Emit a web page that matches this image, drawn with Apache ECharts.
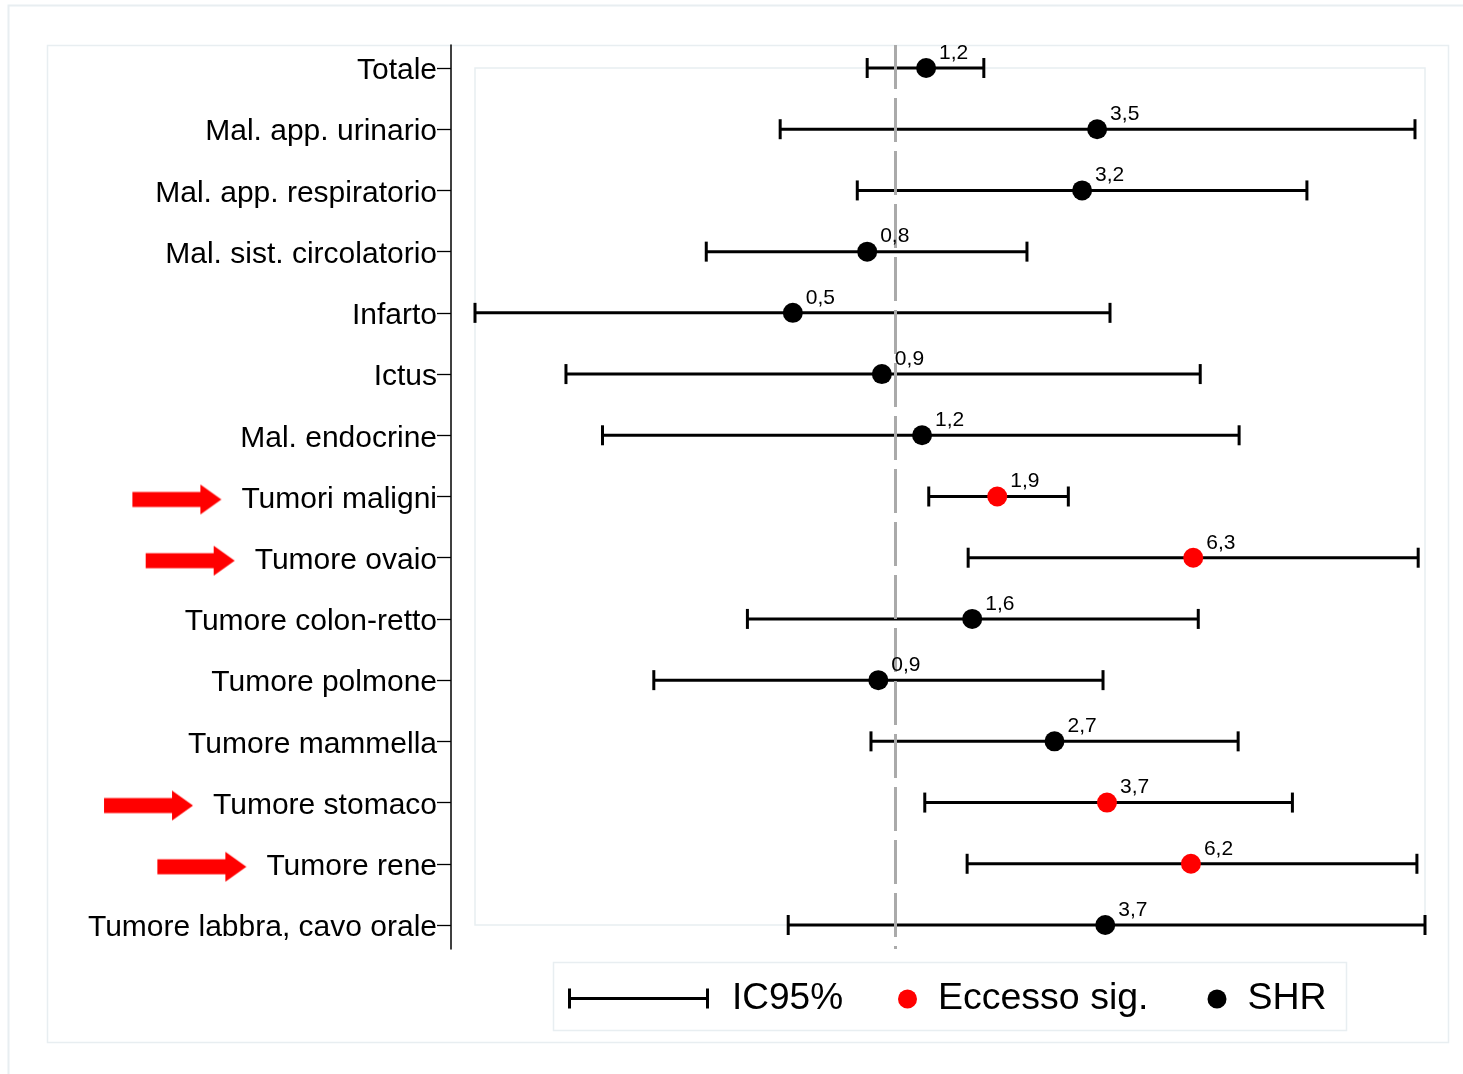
<!DOCTYPE html>
<html>
<head>
<meta charset="utf-8">
<script src="https://cdn.jsdelivr.net/npm/echarts@6/dist/echarts.min.js"></script>
<style>
  html, body { margin: 0; padding: 0; background: #fff; }
  #chart { width: 1463px; height: 1074px; }
</style>
</head>
<body>
<div id="chart"></div>
<script>
const categories = [
  "Totale",
  "Mal. app. urinario",
  "Mal. app. respiratorio",
  "Mal. sist. circolatorio",
  "Infarto",
  "Ictus",
  "Mal. endocrine",
  "Tumori maligni",
  "Tumore ovaio",
  "Tumore colon-retto",
  "Tumore polmone",
  "Tumore mammella",
  "Tumore stomaco",
  "Tumore rene",
  "Tumore labbra, cavo orale",
];
const shr = [1.21, 3.49, 3.18, 0.84, 0.53, 0.92, 1.18, 1.88, 6.33, 1.61, 0.90, 2.68, 3.71, 6.24, 3.67];
const ciLow = [0.84, 0.49, 0.79, 0.31, 0.074, 0.13, 0.163, 1.23, 1.57, 0.40, 0.224, 0.86, 1.20, 1.56, 0.515];
const ciHigh = [1.73, 25.0, 12.8, 2.26, 3.78, 6.61, 8.41, 2.92, 25.5, 6.53, 3.62, 8.36, 11.7, 25.3, 26.6];
const significant = [0, 0, 0, 0, 0, 0, 0, 1, 1, 0, 0, 0, 1, 1, 0];

const FONT = '"Liberation Sans", Arial, sans-serif';
const xMin = 0.074;
const xMax = 26.6;

// red arrow used next to the significant categories
const arrow = document.createElement("canvas");
arrow.width = 89;
arrow.height = 30;
(function () {
  const g = arrow.getContext("2d");
  g.fillStyle = "#ff0000";
  g.fillRect(0, 7.5, 69, 15);
  g.beginPath();
  g.moveTo(68, 0);
  g.lineTo(89, 15);
  g.lineTo(68, 30);
  g.closePath();
  g.fill();
})();

const errData = categories.map((c, i) => [ciLow[i], ciHigh[i], i]);
const redData = [];
const blackData = [];
categories.forEach((c, i) => {
  (significant[i] ? redData : blackData).push([shr[i], i]);
});

const pointLabel = {
  show: true,
  position: "right",
  distance: 3,
  offset: [0, -15],
  color: "#000",
  fontSize: 21,
  fontFamily: FONT,
  formatter: (p) => p.value[0].toFixed(1).replace(".", ","),
};

const frame = "#e8eef1";

const options = {
  animation: false,
  textStyle: { fontFamily: FONT },
  graphic: [
    { type: "rect", shape: { x: 8.5, y: 5.5, width: 1480, height: 1090 }, style: { fill: "none", stroke: frame, lineWidth: 2 }, silent: true },
    { type: "rect", shape: { x: 47.5, y: 45.5, width: 1401, height: 997 }, style: { fill: "none", stroke: frame, lineWidth: 1.5 }, silent: true },
    { type: "rect", shape: { x: 553.5, y: 962.5, width: 793, height: 68 }, style: { fill: "none", stroke: frame, lineWidth: 1.5 }, silent: true },
  ],
  grid: [
    { left: 475, right: 38, top: 68, bottom: 149, show: true, borderColor: frame, borderWidth: 1.5, outerBoundsMode: "none" },
    { left: 475, right: 38, top: 45, bottom: 125, outerBoundsMode: "none" },
  ],
  xAxis: [
    { type: "log", gridIndex: 0, min: xMin, max: xMax, show: false },
    { type: "log", gridIndex: 1, min: xMin, max: xMax, show: false },
  ],
  yAxis: [
    {
      type: "category",
      gridIndex: 0,
      data: categories,
      inverse: true,
      boundaryGap: false,
      offset: 24,
      axisLine: { show: false },
      axisTick: { show: true, length: 14, lineStyle: { color: "#000", width: 1.3 } },
      splitLine: { show: false },
      axisLabel: {
        margin: 14,
        color: "#000",
        fontSize: 30,
        fontFamily: FONT,
        padding: [6, 0, 0, 0],
        formatter: (value, index) => (significant[index] ? "{arr|}{sp|}" + value : value),
        rich: {
          arr: { width: 89, height: 30, backgroundColor: { image: arrow } },
          sp: { width: 20 },
        },
      },
    },
    {
      type: "value",
      gridIndex: 1,
      min: 0,
      max: 1,
      inverse: true,
      offset: 24,
      axisLine: { show: true, lineStyle: { color: "#000", width: 1.5 } },
      axisTick: { show: false },
      axisLabel: { show: false },
      splitLine: { show: false },
    },
  ],
  legend: [
    {
      data: [{ name: "IC95%", icon: "path://M0,0h3v20h-3z M0,8.5h141v3h-141z M138,0h3v20h-3z", itemStyle: { color: "#000" } }],
      left: 568,
      top: 980,
      padding: 0,
      itemWidth: 141,
      itemHeight: 20,
      selectedMode: false,
      textStyle: { fontSize: 37, color: "#000", fontFamily: FONT, padding: [0, 0, 0, 18] },
    },
    {
      data: ["Eccesso sig.", "SHR"],
      icon: "circle",
      left: 898,
      top: 980,
      padding: 0,
      itemWidth: 51,
      itemHeight: 19,
      itemGap: 59,
      selectedMode: false,
      textStyle: { fontSize: 37.5, color: "#000", fontFamily: FONT },
    },
  ],
  series: [
    {
      name: "ref",
      type: "scatter",
      xAxisIndex: 1,
      yAxisIndex: 1,
      data: [],
      silent: true,
      z: 3,
      markLine: {
        symbol: "none",
        silent: true,
        z: 3.5,
        label: { show: false },
        lineStyle: { color: "#aaaaaa", width: 3, type: [44, 9] },
        data: [{ xAxis: 1 }],
      },
    },
    {
      name: "IC95%",
      type: "custom",
      xAxisIndex: 0,
      yAxisIndex: 0,
      itemStyle: { color: "#000" },
      encode: { x: [0, 1], y: 2 },
      z: 3,
      data: errData,
      renderItem: function (params, api) {
        const row = api.value(2);
        const lo = api.coord([api.value(0), row]);
        const hi = api.coord([api.value(1), row]);
        const h = 10;
        const style = { stroke: "#000", lineWidth: 3 };
        return {
          type: "group",
          children: [
            { type: "line", shape: { x1: lo[0], y1: lo[1], x2: hi[0], y2: hi[1] }, style: style },
            { type: "line", shape: { x1: lo[0], y1: lo[1] - h, x2: lo[0], y2: lo[1] + h }, style: style },
            { type: "line", shape: { x1: hi[0], y1: hi[1] - h, x2: hi[0], y2: hi[1] + h }, style: style },
          ],
        };
      },
    },
    {
      name: "Eccesso sig.",
      type: "scatter",
      symbolSize: 20,
      itemStyle: { color: "#ff0000", opacity: 1 },
      z: 4,
      data: redData,
      label: pointLabel,
    },
    {
      name: "SHR",
      type: "scatter",
      symbolSize: 20,
      itemStyle: { color: "#000", opacity: 1 },
      z: 4,
      data: blackData,
      label: pointLabel,
    },
  ],
};

const chart = echarts.init(document.getElementById("chart"));
chart.setOption(options);
</script>
</body>
</html>
